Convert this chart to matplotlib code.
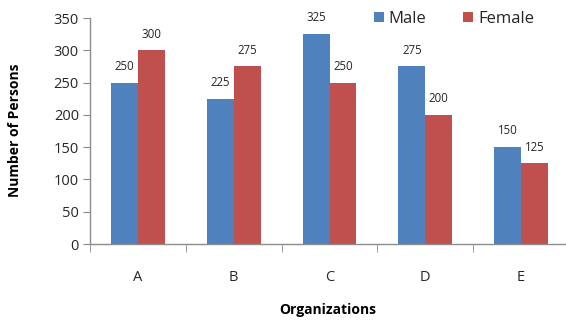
import matplotlib
matplotlib.use("Agg")
import matplotlib.pyplot as plt
import numpy as np

organizations = ["A", "B", "C", "D", "E"]
male = [250, 225, 325, 275, 150]
female = [300, 275, 250, 200, 125]
y_ticks = [0, 50, 100, 150, 200, 250, 300, 350]

BLUE = "#4F81BD"
RED = "#C0504D"
AXIS = "#8C8C8C"
TXT = "#262626"

plt.rcParams["font.family"] = ["Open Sans", "DejaVu Sans"]

fig = plt.figure(figsize=(5.66, 3.2), dpi=100)
W, H = 566, 320
ax = fig.add_axes([90 / W, 76 / H, (569 - 90) / W, (244 - 18) / H])

x = np.arange(len(organizations))
bw = 0.28
b1 = ax.bar(x - bw / 2, male, bw, color=BLUE, label="Male")
b2 = ax.bar(x + bw / 2, female, bw, color=RED, label="Female")

for bars, vals in ((b1, male), (b2, female)):
    for rect, v in zip(bars, vals):
        ax.annotate(str(v), (rect.get_x() + rect.get_width() / 2, v),
                    xytext=(0, 7), textcoords="offset points",
                    ha="center", va="bottom", fontsize=8.3, color=TXT)

ax.set_xlim(-0.5, len(organizations) - 0.5)
ax.set_ylim(0, 350)
ax.set_yticks(y_ticks)
ax.set_yticklabels([str(t) for t in y_ticks], fontsize=10.5, color=TXT)

# category labels in the middle, tick marks at the boundaries
ax.set_xticks(x)
ax.set_xticklabels(organizations, fontsize=10.5, color=TXT)
ax.tick_params(axis="x", length=0, pad=19)
ax.set_xticks(np.arange(len(organizations)) - 0.5, minor=True)
ax.tick_params(axis="x", which="minor", length=6, color=AXIS, direction="out")
ax.tick_params(axis="y", length=5, color=AXIS, direction="out", pad=3)

for s in ("top", "right"):
    ax.spines[s].set_visible(False)
for s in ("left", "bottom"):
    ax.spines[s].set_color(AXIS)
    ax.spines[s].set_linewidth(1.0)

fig.text(15 / W, 1 - 130 / H, "Number of Persons", rotation=90, ha="center",
         va="center", fontsize=10, fontweight="bold", color="black")
fig.text(328 / W, 1 - 310 / H, "Organizations", ha="center", va="center",
         fontsize=10, fontweight="bold", color="black")

leg = fig.legend(handles=[b1, b2], loc="center left",
                 bbox_to_anchor=(367 / W, 1 - 19 / H), ncol=2, frameon=False,
                 fontsize=12, handlelength=0.6, handleheight=0.6,
                 handletextpad=0.3, columnspacing=2.2, borderaxespad=0)
for t in leg.get_texts():
    t.set_color(TXT)

fig.savefig("out.png", dpi=100)
